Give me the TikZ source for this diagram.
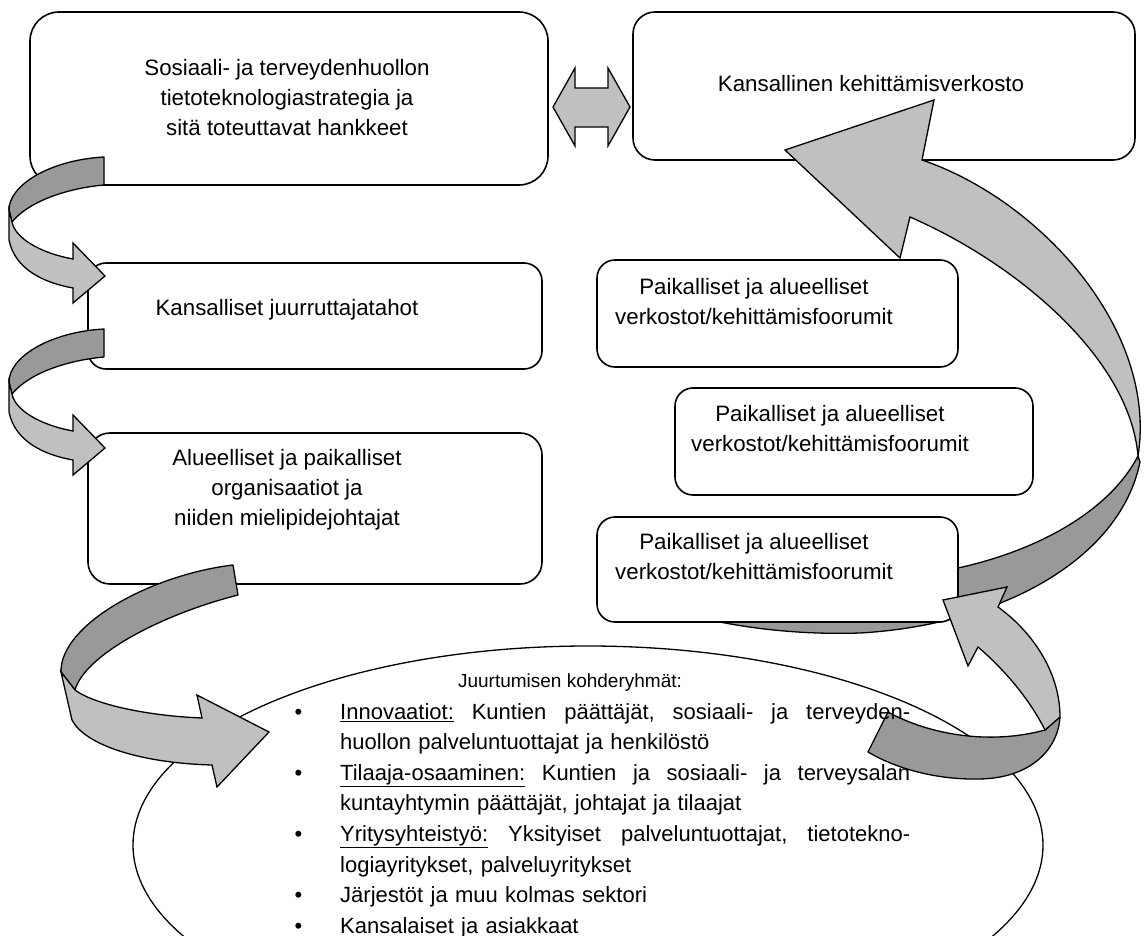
\documentclass[tikz,border=0pt]{standalone}
\usepackage{fontspec}
\setmainfont{Liberation Sans}
\usetikzlibrary{shapes.geometric}
\definecolor{ribbondark}{gray}{0.6}
\definecolor{ribbonlight}{gray}{0.753}
\newcommand{\listbullet}{\noindent\llap{\textbullet\hspace{38pt}}}
\newcommand{\fullline}[1]{\hbox to 570pt{#1}}

\begin{document}
\begin{tikzpicture}[x=1pt,y=-1pt,
  box/.style={draw,line width=1.6pt,rounded corners=18pt,fill=white,inner sep=0pt},
  boxtext/.style={font=\fontsize{22.3}{30}\selectfont,align=center,inner sep=0pt},
  listtext/.style={font=\fontsize{22}{30.6}\selectfont,inner sep=0pt},
  back/.style={draw,line width=1.3pt,fill=ribbondark,line join=round},
  front/.style={draw,line width=1.3pt,fill=ribbonlight,line join=miter}]
\useasboundingbox (0,0) rectangle (1144,936);
\clip (0,0) rectangle (1144,936);

% boxes
\node[box,rounded corners=29pt,minimum width=518pt,minimum height=173pt] (sos) at (289,98.5) {};
\node[box,rounded corners=22pt,minimum width=502pt,minimum height=148pt] (kkv) at (884,86) {};
\node[box,minimum width=454pt,minimum height=106pt] (kjt) at (315,316) {};
\node[box,rounded corners=22pt,minimum width=454pt,minimum height=151pt] (apo) at (315,508.5) {};
\node[box,minimum width=361pt,minimum height=107pt] (pav1) at (777.5,313.5) {};
\node[box,minimum width=358pt,minimum height=107pt] (pav2) at (854,441.5) {};

% target groups
\node[draw,line width=1.3pt,ellipse,minimum width=910pt,minimum height=398pt,inner sep=0pt] (kohde) at (588,845) {};

% big arc back part, partly behind the lowest box
\draw[back] (1138,456) .. controls (1110,510) and (1040,550) .. (958,568) -- (720,612) -- (720,622)
  .. controls (750,628) and (800,635) .. (860,633) .. controls (1000,625) and (1120,560) .. (1140,462) -- cycle;
\node[box,minimum width=361pt,minimum height=105pt] (pav3) at (777.5,569.5) {};
% big arc front part with head
\draw[front] (1138,456) .. controls (1158,330) and (1040,200) .. (922,160) -- (934,100) -- (785,150)
  -- (900,258) -- (910,217) .. controls (1020,265) and (1130,360) .. (1138,456) -- cycle;

% small arc from the ellipse up
\draw[back] (888,712) .. controls (930,735) and (990,745) .. (1045,730) -- (1060,717)
  .. controls (1058,750) and (1030,778) .. (980,779) .. controls (935,780) and (895,768) .. (868,752) -- cycle;
\draw[front] (1045,730) .. controls (1030,700) and (1005,670) .. (978,647) -- (968,666) -- (943,600)
  -- (1007,587) -- (998,607) .. controls (1030,630) and (1060,670) .. (1060,717) -- cycle;

% left u-turns
\foreach \dy in {0,172}{
\begin{scope}[shift={(0,\dy)}]
\draw[back] (104,157) .. controls (50,160) and (9,185) .. (9,210) -- (12,222)
  .. controls (30,200) and (70,188) .. (104,185) -- cycle;
\draw[front] (9,210) -- (9,240) .. controls (15,270) and (45,283) .. (73,288) -- (73,303) -- (105,276)
  -- (73,243) -- (73,259) .. controls (40,253) and (15,238) .. (12,222) -- cycle;
\end{scope}
}

% arc down to the ellipse
\draw[back] (233,565) .. controls (150,575) and (60,625) .. (61,672) -- (75,690)
  .. controls (85,655) and (160,615) .. (238,595) -- cycle;
\draw[front] (61,672) -- (72,720) .. controls (85,745) and (140,763) .. (212,765) -- (217,787) -- (269,732)
  -- (197,695) -- (202,718) .. controls (150,716) and (95,705) .. (75,690) -- cycle;

% double arrow
\draw[front] (553,107) -- (575,68) -- (575,88) -- (608,88) -- (608,68) -- (630,107) -- (608,146)
  -- (608,127) -- (575,127) -- (575,146) -- cycle;

% texts
\node[boxtext] (sos-t) at (287,98) {Sosiaali- ja terveydenhuollon\\tietoteknologiastrategia ja\\sitä toteuttavat hankkeet};
\node[boxtext] (kkv-t) at (871,84) {Kansallinen kehittämisverkosto};
\node[boxtext] (kjt-t) at (287,310) {Kansalliset juurruttajatahot};
\node[boxtext] (apo-t) at (287,490) {Alueelliset ja paikalliset\\organisaatiot ja\\niiden mielipidejohtajat};
\node[boxtext] (pav1-t) at (754,302) {Paikalliset ja alueelliset\\verkostot/kehittämisfoorumit};
\node[boxtext] (pav2-t) at (830,429) {Paikalliset ja alueelliset\\verkostot/kehittämisfoorumit};
\node[boxtext] (pav3-t) at (754,557) {Paikalliset ja alueelliset\\verkostot/kehittämisfoorumit};

\node[listtext,font=\fontsize{19}{24}\selectfont] (kohde-t) at (570,683) {Juurtumisen kohderyhmät:};
\node[listtext,align=left,text width=600pt,anchor=north west] (kohde-l) at (340,703) {%
\listbullet\fullline{\underline{Innovaatiot:}\hfill Kuntien\hfill päättäjät,\hfill sosiaali-\hfill ja\hfill terveyden-}\\
huollon palveluntuottajat ja henkilöstö\\
\listbullet\fullline{\underline{Tilaaja-osaaminen:}\hfill Kuntien\hfill ja\hfill sosiaali-\hfill ja\hfill terveysalan}\\
kuntayhtymin päättäjät, johtajat ja tilaajat\\
\listbullet\fullline{\underline{Yritysyhteistyö:}\hfill Yksityiset\hfill palveluntuottajat,\hfill tietotekno-}\\
logiayritykset, palveluyritykset\\
\listbullet Järjestöt ja muu kolmas sektori\\
\listbullet Kansalaiset ja asiakkaat};
\end{tikzpicture}
\end{document}
